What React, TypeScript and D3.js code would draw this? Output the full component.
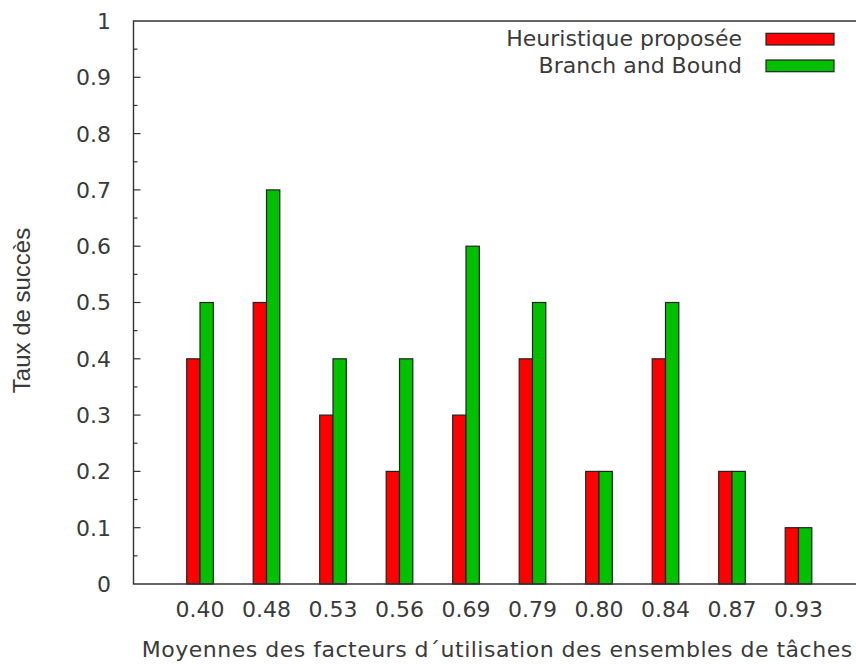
import React from "react";
import * as d3 from "d3";

const categories = ["0.40", "0.48", "0.53", "0.56", "0.69", "0.79", "0.80", "0.84", "0.87", "0.93"];
const heuristique = [0.4, 0.5, 0.3, 0.2, 0.3, 0.4, 0.2, 0.4, 0.2, 0.1];
const branchBound = [0.5, 0.7, 0.4, 0.4, 0.6, 0.5, 0.2, 0.5, 0.2, 0.1];
const seriesNames = ["Heuristique proposée", "Branch and Bound"];
const seriesColors = ["#ff0000", "#00c000"];
const yTicks = [0, 0.1, 0.2, 0.3, 0.4, 0.5, 0.6, 0.7, 0.8, 0.9, 1];
const yMinorTicks = [0.05, 0.15, 0.25, 0.35, 0.45, 0.55, 0.65, 0.75, 0.85, 0.95];

const W = 856;
const H = 664;
const left = 133.5;
const right = 865;
const top = 21;
const bottom = 584;
const font = "'DejaVu Sans', sans-serif";
const textColor = "#3a3a3a";
const fs = 22;

export default function App() {
  const x = d3.scaleLinear().domain([-1, 10]).range([left, right]);
  const y = d3.scaleLinear().domain([0, 1]).range([bottom, top]);
  const bw = 0.2;
  const series = [heuristique, branchBound];

  return (
    <svg width={W} height={H} style={{ position: "absolute", left: 0, top: 0, background: "#fff" }}>
      <rect x={0} y={0} width={W} height={H} fill="#fff" />
      {series.map((vals, s) =>
        vals.map((v, i) => {
          const x0 = x(i - bw + s * bw);
          const x1 = x(i + s * bw);
          return (
            <rect
              key={`${s}-${i}`}
              x={x0}
              y={y(v)}
              width={x1 - x0}
              height={y(0) - y(v)}
              fill={seriesColors[s]}
              stroke="#222"
              strokeWidth={1.2}
            />
          );
        })
      )}
      <path d={`M${right},${top}H${left}V${bottom}H${right}`} fill="none" stroke="#333" strokeWidth={1.4} />
      {yTicks.map((t) => (
        <g key={t}>
          {t > 0 && t < 1 && <line x1={left} x2={left + 7} y1={y(t)} y2={y(t)} stroke="#333" strokeWidth={1.2} />}
          <text
            x={111}
            y={y(t)}
            dy="0.36em"
            textAnchor="end"
            fontFamily={font}
            fontSize={fs}
            fill={textColor}
          >
            {d3.format("")(t)}
          </text>
        </g>
      ))}
      {yMinorTicks.map((t) => (
        <line key={t} x1={left} x2={left + 4} y1={y(t)} y2={y(t)} stroke="#333" strokeWidth={1.2} />
      ))}
      {categories.map((c, i) => (
        <text
          key={c}
          x={x(i)}
          y={617}
          textAnchor="middle"
          fontFamily={font}
          fontSize={fs}
          fill={textColor}
        >
          {c}
        </text>
      ))}
      <text
        x={(left + right) / 2 - 2}
        y={657}
        textAnchor="middle"
        fontFamily={font}
        fontSize={fs}
        letterSpacing={0.5}
        fill={textColor}
      >
        Moyennes des facteurs d´utilisation des ensembles de tâches
      </text>
      <text
        transform={`translate(30, 310.5) rotate(-90)`}
        textAnchor="middle"
        fontFamily="'Liberation Sans', Arial, sans-serif"
        fontSize={24}
        fill={textColor}
      >
        Taux de succès
      </text>
      {seriesNames.map((n, s) => (
        <g key={n}>
          <text
            x={742}
            y={46 + s * 26.7}
            textAnchor="end"
            fontFamily={font}
            fontSize={fs}
            fill={textColor}
          >
            {n}
          </text>
          <rect x={766} y={33.3 + s * 26.7} width={68} height={11.7} fill={seriesColors[s]} stroke="#222" strokeWidth={1.2} />
        </g>
      ))}
    </svg>
  );
}
